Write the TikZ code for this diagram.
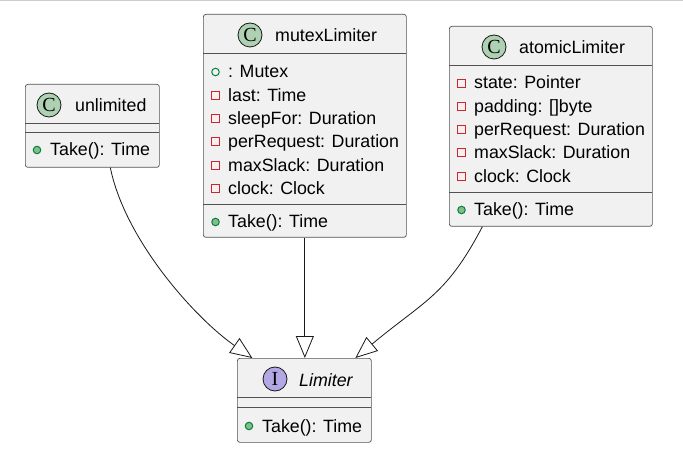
\documentclass[tikz,border=0pt]{standalone}
\usepackage{fontspec}
\usetikzlibrary{arrows.meta}
\newfontfamily\umlfont{Liberation Sans}
\newfontfamily\kreisfont{Liberation Serif}

\definecolor{umlrahmen}{HTML}{181818}
\definecolor{umlfuell}{HTML}{F1F1F1}
\definecolor{klassegruen}{HTML}{ADD1B2}
\definecolor{schnittlila}{HTML}{B4A7E5}
\definecolor{privatrot}{HTML}{C82930}
\definecolor{oeffgruen}{HTML}{038048}
\definecolor{methgruen}{HTML}{84BE84}

\tikzset{
  klasse/.style={draw=umlrahmen!75, fill=umlfuell, line width=0.7pt, rounded corners=2.5pt, anchor=north west, inner sep=0pt},
  kreis/.style={circle, draw=umlrahmen, line width=0.8pt, minimum size=24pt, inner sep=0pt, font=\kreisfont\fontsize{20}{20}\selectfont},
  eintrag/.style={anchor=base west, inner sep=0pt, font=\umlfont\fontsize{17.8}{20}\selectfont},
  trenner/.style={draw=umlrahmen!75, line width=0.7pt},
  privat/.style={rectangle, draw=privatrot, fill=privatrot!8, line width=1.3pt, minimum size=8pt, inner sep=0pt},
  feld/.style={circle, draw=oeffgruen, line width=1pt, minimum size=7.5pt, inner sep=0pt},
  methode/.style={feld, fill=methgruen},
  erbt/.style={draw=umlrahmen, line width=0.8pt, -{Triangle[length=22pt, width=18pt, fill=white]}}
}

\begin{document}
\begin{tikzpicture}[x=1pt, y=-1pt]
			\useasboundingbox (0,0) rectangle (683,473);
			\draw[black!20, line width=1pt] (0,0.5) -- (683,0.5);

			% Klasse unlimited
			\node[klasse, minimum width=134pt, minimum height=83pt] (unlimited) at (25,84) {};
			\node[kreis, fill=klassegruen] (unlimitedK) at (49,105) {C};
			\node[eintrag] (unlimitedN) at (75,112) {unlimited};
			\draw[trenner] (25,123) -- (159,123);
			\draw[trenner] (25,132) -- (159,132);
			\node[methode] (unlimitedM1) at (37,150) {};
			\node[eintrag] (unlimitedT1) at (50,156) {Take(): Time};

			% Klasse mutexLimiter
			\node[klasse, minimum width=203pt, minimum height=223pt] (mutex) at (203,14) {};
			\node[kreis, fill=klassegruen] (mutexK) at (250,35) {C};
			\node[eintrag] (mutexN) at (275,42) {mutexLimiter};
			\draw[trenner] (203,53) -- (406,53);
			\node[feld] (mutexI1) at (215.5,72) {};
			\node[eintrag] (mutexF1) at (228,78) {: Mutex};
			\node[privat] (mutexI2) at (215.5,95.5) {};
			\node[eintrag] (mutexF2) at (228,101.3) {last: Time};
			\node[privat] (mutexI3) at (215.5,118.5) {};
			\node[eintrag] (mutexF3) at (228,124.6) {sleepFor: Duration};
			\node[privat] (mutexI4) at (215.5,141.5) {};
			\node[eintrag] (mutexF4) at (228,147.9) {perRequest: Duration};
			\node[privat] (mutexI5) at (215.5,165.5) {};
			\node[eintrag] (mutexF5) at (228,171.2) {maxSlack: Duration};
			\node[privat] (mutexI6) at (215.5,188.5) {};
			\node[eintrag] (mutexF6) at (228,194.5) {clock: Clock};
			\draw[trenner] (203,204) -- (406,204);
			\node[methode] (mutexM1) at (215.5,222) {};
			\node[eintrag] (mutexT1) at (228,228) {Take(): Time};

			% Klasse atomicLimiter
			\node[klasse, minimum width=203pt, minimum height=200pt] (atomic) at (449,26) {};
			\node[kreis, fill=klassegruen] (atomicK) at (494,47) {C};
			\node[eintrag] (atomicN) at (519,54) {atomicLimiter};
			\draw[trenner] (449,65) -- (652,65);
			\node[privat] (atomicI1) at (461.5,83.5) {};
			\node[eintrag] (atomicF1) at (474,89) {state: Pointer};
			\node[privat] (atomicI2) at (461.5,106.5) {};
			\node[eintrag] (atomicF2) at (474,112.3) {padding: []byte};
			\node[privat] (atomicI3) at (461.5,129.5) {};
			\node[eintrag] (atomicF3) at (474,135.6) {perRequest: Duration};
			\node[privat] (atomicI4) at (461.5,152.5) {};
			\node[eintrag] (atomicF4) at (474,158.9) {maxSlack: Duration};
			\node[privat] (atomicI5) at (461.5,176.5) {};
			\node[eintrag] (atomicF5) at (474,182.2) {clock: Clock};
			\draw[trenner] (449,192) -- (652,192);
			\node[methode] (atomicM1) at (461.5,210) {};
			\node[eintrag] (atomicT1) at (474,216) {Take(): Time};

			% Schnittstelle Limiter
			\node[klasse, minimum width=134pt, minimum height=84pt] (limiter) at (237,358) {};
			\node[kreis, fill=schnittlila] (limiterK) at (275,379) {I};
			\node[eintrag] (limiterN) at (299,386) {\itshape Limiter};
			\draw[trenner] (237,397) -- (371,397);
			\draw[trenner] (237,407) -- (371,407);
			\node[methode] (limiterM1) at (249,426) {};
			\node[eintrag] (limiterT1) at (262,432) {Take(): Time};

			% Vererbungspfeile
			\draw[erbt] ([xshift=18pt]unlimited.south) .. controls (125,240) and (195,318) .. ([xshift=-52pt]limiter.north);
			\draw[erbt] (mutex.south) -- (mutex.south |- limiter.north);
			\draw[erbt] ([xshift=-68.5pt]atomic.south) .. controls (446,296) and (425,300) .. ([xshift=51pt]limiter.north);

\end{tikzpicture}
\end{document}
